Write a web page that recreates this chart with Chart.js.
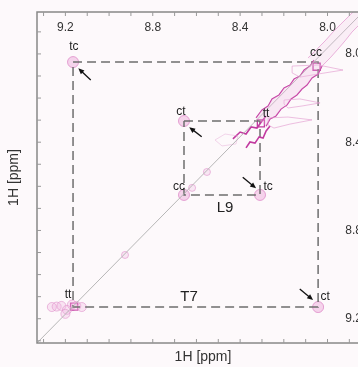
<!DOCTYPE html>
<html>
<head>
<meta charset="utf-8">
<script src="https://cdn.jsdelivr.net/npm/chart.js@4.4.0/dist/chart.umd.min.js"></script>
<style>
  html, body { margin: 0; padding: 0; background: #fdf9fb; overflow: hidden; }
  canvas { display: block; }
</style>
</head>
<body>
<canvas id="nmr" width="400" height="367"></canvas>
<script>
// ppm ranges, both axes run high -> low like the spectrum
const xRange = [7.81, 9.33];
const yRange = [7.81, 9.31];
const majorTicks = [9.2, 8.8, 8.4, 8.0];
const minorTicks = [9.3, 9.2, 9.1, 9.0, 8.9, 8.8, 8.7, 8.6, 8.5, 8.4, 8.3, 8.2, 8.1, 8.0, 7.9];

const diagonal = [[9.35, 9.33], [7.80, 7.772]];

const T7box = [[9.165, 8.037], [8.043, 8.037], [8.043, 9.147], [9.165, 9.147], [9.165, 8.037]];
const L9box = [[8.657, 8.304], [8.309, 8.304], [8.309, 8.639], [8.657, 8.639], [8.657, 8.304]];

const crossPeaks = [[9.165, 8.037], [8.657, 8.304], [8.657, 8.639], [8.309, 8.639], [8.043, 9.147]];
const weakPeaks = [[8.552, 8.535], [8.620, 8.607], [8.927, 8.911]];
const ttCluster = [[9.262, 9.147], [9.240, 9.145], [9.218, 9.142], [9.193, 9.160], [9.170, 9.136],
                   [9.150, 9.142], [9.125, 9.147], [9.200, 9.178]];
const strongPeaks = [[8.050, 8.058], [8.305, 8.315], [9.160, 9.145]];

// diagonal ridge between tt(L9) and cc(T7)
const ridgeUpper = [[8.327, 8.290], [8.300, 8.254], [8.272, 8.236], [8.254, 8.204], [8.222, 8.186], [8.199, 8.154],
                    [8.172, 8.141], [8.153, 8.114], [8.126, 8.100], [8.107, 8.073], [8.080, 8.055], [8.062, 8.028]];
const ridgeLower = [[8.281, 8.327], [8.263, 8.295], [8.236, 8.281], [8.213, 8.250], [8.185, 8.231], [8.167, 8.204],
                    [8.140, 8.186], [8.117, 8.159], [8.094, 8.141], [8.071, 8.109], [8.043, 8.091], [8.025, 8.055]];
// ridge above cc(T7)
const topUpper = [[8.089, 8.018], [8.048, 7.978], [8.011, 7.941], [7.975, 7.901], [7.938, 7.864], [7.901, 7.828], [7.865, 7.792]];
const topLower = [[8.025, 8.055], [7.988, 8.018], [7.952, 7.978], [7.920, 7.941], [7.888, 7.901], [7.851, 7.864], [7.814, 7.828]];
// streaks to the right of the ridge
const wing1 = [[8.162, 8.055], [8.043, 8.050], [7.929, 8.073], [8.043, 8.091], [8.126, 8.105], [8.162, 8.086], [8.162, 8.055]];
const wing2 = [[8.199, 8.209], [8.126, 8.204], [8.034, 8.222], [8.117, 8.236], [8.181, 8.245], [8.199, 8.227], [8.199, 8.209]];
const wing3 = [[8.272, 8.290], [8.181, 8.286], [8.071, 8.299], [8.172, 8.318], [8.245, 8.336], [8.272, 8.322], [8.272, 8.290]];
// L9 zig-zag
const zigUpper = [[8.433, 8.385], [8.400, 8.354], [8.373, 8.363], [8.350, 8.331], [8.323, 8.336], [8.300, 8.304], [8.281, 8.281]];
const zigLower = [[8.373, 8.426], [8.355, 8.399], [8.332, 8.404], [8.313, 8.376], [8.295, 8.381], [8.281, 8.349], [8.263, 8.327]];
const cloud = [[8.515, 8.390], [8.469, 8.363], [8.410, 8.372], [8.419, 8.408], [8.483, 8.417], [8.515, 8.390]];

const arrowTails = [[9.084, 8.118], [8.576, 8.375], [8.388, 8.559], [8.127, 9.065]];
const arrowHeads = [[9.141, 8.065], [8.633, 8.332], [8.327, 8.609], [8.066, 9.115]];

const smallLabels = ['tc', 'cc', 'ct', 'tt', 'cc', 'tc', 'tt', 'ct'];
const smallLabelPos = [[9.161, 7.969], [8.053, 7.996], [8.671, 8.263], [8.281, 8.272],
                       [8.680, 8.603], [8.272, 8.603], [9.188, 9.092], [8.011, 9.101]];
const groupLabels = ['L9', 'T7'];
const groupLabelPos = [[8.469, 8.698], [8.634, 9.101]];

const axisTitle = '1H [ppm]';

function pts(arr) {
  return arr.map(p => ({x: p[0], y: p[1]}));
}

function line(data, color, width, extra) {
  return Object.assign({
    data: pts(data), showLine: true, pointRadius: 0, borderColor: color,
    borderWidth: width, fill: false, tension: 0
  }, extra || {});
}

function band(upper, lower, alpha) {
  return line(upper.concat(lower.slice().reverse()), 'rgba(0,0,0,0)', 0,
    {fill: 'shape', backgroundColor: 'rgba(240,190,225,' + alpha + ')'});
}

const font = "'Liberation Sans', Arial, sans-serif";

const decor = {
  id: 'decor',
  afterDraw(chart) {
    const {ctx, chartArea: a, scales: {x, y}} = chart;
    ctx.save();

    // arrows
    ctx.strokeStyle = '#111';
    ctx.fillStyle = '#111';
    ctx.lineWidth = 1.3;
    arrowTails.forEach((t, i) => {
      const x0 = x.getPixelForValue(t[0]), y0 = y.getPixelForValue(t[1]);
      const x1 = x.getPixelForValue(arrowHeads[i][0]), y1 = y.getPixelForValue(arrowHeads[i][1]);
      const ang = Math.atan2(y1 - y0, x1 - x0);
      ctx.beginPath();
      ctx.moveTo(x0, y0);
      ctx.lineTo(x1 - 4 * Math.cos(ang), y1 - 4 * Math.sin(ang));
      ctx.stroke();
      ctx.beginPath();
      ctx.moveTo(x1, y1);
      ctx.lineTo(x1 - 6 * Math.cos(ang) + 2.6 * Math.sin(ang), y1 - 6 * Math.sin(ang) - 2.6 * Math.cos(ang));
      ctx.lineTo(x1 - 6 * Math.cos(ang) - 2.6 * Math.sin(ang), y1 - 6 * Math.sin(ang) + 2.6 * Math.cos(ang));
      ctx.closePath();
      ctx.fill();
    });

    // labels
    ctx.fillStyle = '#222';
    ctx.textAlign = 'center';
    ctx.textBaseline = 'middle';
    ctx.font = '12px ' + font;
    smallLabels.forEach((s, i) => {
      ctx.fillText(s, x.getPixelForValue(smallLabelPos[i][0]), y.getPixelForValue(smallLabelPos[i][1]));
    });
    ctx.font = '15px ' + font;
    groupLabels.forEach((s, i) => {
      ctx.fillText(s, x.getPixelForValue(groupLabelPos[i][0]), y.getPixelForValue(groupLabelPos[i][1]));
    });

    // frame
    ctx.strokeStyle = '#888';
    ctx.lineWidth = 1.5;
    ctx.strokeRect(a.left, a.top, a.right - a.left, a.bottom - a.top);

    // inward ticks
    ctx.lineWidth = 1;
    ctx.strokeStyle = '#999';
    ctx.beginPath();
    minorTicks.forEach(v => {
      const px = x.getPixelForValue(v), py = y.getPixelForValue(v);
      ctx.moveTo(px, a.top); ctx.lineTo(px, a.top + 4);
      ctx.moveTo(px, a.bottom); ctx.lineTo(px, a.bottom - 4);
      ctx.moveTo(a.left, py); ctx.lineTo(a.left + 4, py);
      ctx.moveTo(a.right, py); ctx.lineTo(a.right - 4, py);
    });
    ctx.stroke();

    // tick labels (top and right, inside the frame)
    ctx.fillStyle = '#333';
    ctx.font = '12px ' + font;
    ctx.textAlign = 'center';
    majorTicks.forEach(v => ctx.fillText(v.toFixed(1), x.getPixelForValue(v), a.top + 16));
    ctx.textAlign = 'right';
    majorTicks.forEach(v => ctx.fillText(v.toFixed(1), a.right - 7, y.getPixelForValue(v)));

    // axis titles
    ctx.font = '14px ' + font;
    ctx.textAlign = 'center';
    ctx.fillText(axisTitle, (a.left + a.right) / 2, 357);
    ctx.translate(14, (a.top + a.bottom) / 2);
    ctx.rotate(-Math.PI / 2);
    ctx.fillText(axisTitle, 0, 0);
    ctx.restore();
  }
};

const pink = 'rgba(225,150,205,0.75)';
const magenta = '#c23aa0';

new Chart(document.getElementById('nmr'), {
  type: 'scatter',
  data: {
    datasets: [
      band(ridgeUpper, ridgeLower, 0.3),
      band(topUpper, topLower, 0.18),
      line(diagonal, 'rgba(175,175,175,0.9)', 1),
      line(wing1, pink, 0.8),
      line(wing2, pink, 0.8),
      line(wing3, pink, 0.8),
      line(cloud, 'rgba(230,170,215,0.6)', 0.8),
      line(ridgeUpper, magenta, 1.2),
      line(ridgeLower, magenta, 1.2),
      line(topUpper, pink, 1),
      line(topLower, pink, 1),
      line(zigUpper, magenta, 1.6),
      line(zigLower, magenta, 1.6),
      line(T7box, '#6e6e6e', 1.5, {borderDash: [9, 5]}),
      line(L9box, '#6e6e6e', 1.5, {borderDash: [9, 5]}),
      {data: pts(crossPeaks), pointRadius: 5.5, backgroundColor: 'rgba(240,185,225,0.6)',
       borderColor: 'rgba(225,150,205,0.9)', borderWidth: 1},
      {data: pts(weakPeaks), pointRadius: 3.5, backgroundColor: 'rgba(240,185,225,0.3)',
       borderColor: 'rgba(225,150,205,0.8)', borderWidth: 0.8},
      {data: pts(ttCluster), pointRadius: 4.5, backgroundColor: 'rgba(240,185,225,0.35)',
       borderColor: 'rgba(225,150,205,0.8)', borderWidth: 0.8},
      {data: pts(strongPeaks), pointRadius: 5, pointStyle: 'rect', backgroundColor: 'rgba(0,0,0,0)',
       borderColor: magenta, borderWidth: 1.3}
    ]
  },
  options: {
    responsive: false,
    animation: false,
    devicePixelRatio: 1,
    layout: {padding: {left: 37, top: 12, right: 31, bottom: 24}},
    plugins: {legend: {display: false}, tooltip: {enabled: false}},
    scales: {
      x: {type: 'linear', min: xRange[0], max: xRange[1], reverse: true, display: false},
      y: {type: 'linear', min: yRange[0], max: yRange[1], reverse: true, display: false}
    }
  },
  plugins: [decor]
});
</script>
</body>
</html>
